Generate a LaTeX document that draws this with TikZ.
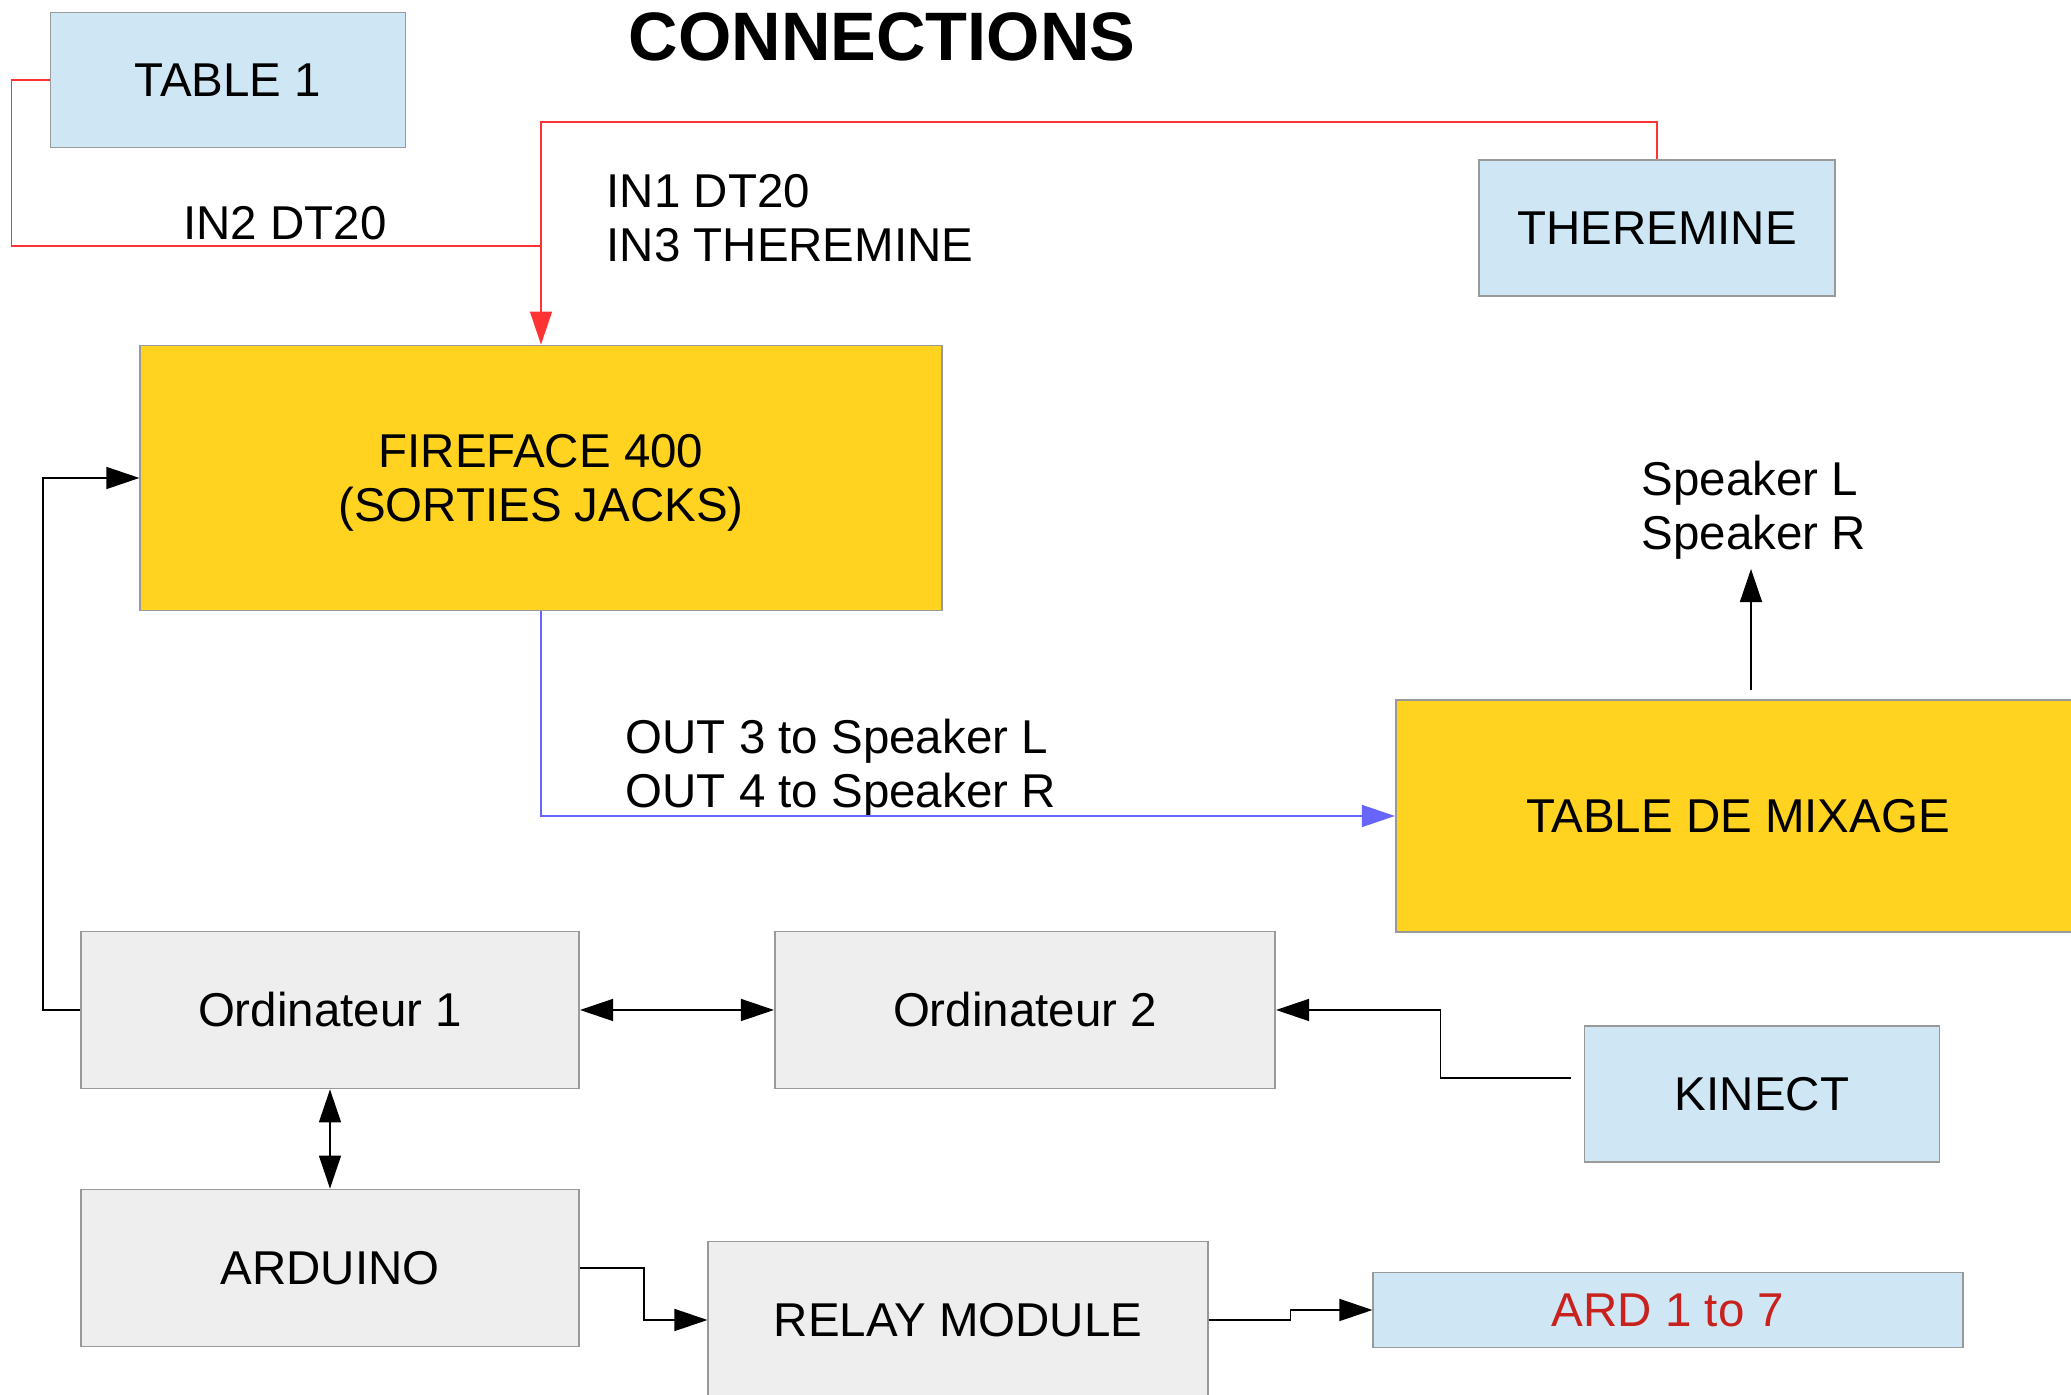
\documentclass[tikz,border=0pt]{standalone}
\usepackage{fontspec}
\setmainfont{Liberation Sans}
\usetikzlibrary{arrows.meta}

\definecolor{boxblue}{HTML}{CFE7F5}
\definecolor{boxyellow}{HTML}{FFD320}
\definecolor{boxgray}{HTML}{EEEEEE}
\definecolor{boxline}{HTML}{999999}
\definecolor{wirered}{HTML}{FF3333}
\definecolor{wireblue}{HTML}{6666FF}
\definecolor{ardred}{HTML}{C9211E}

\newcommand{\linestrut}{\rule[-2.86pt]{0pt}{15.08pt}}

\tikzset{
	box/.style={draw=boxline, line width=0.5pt, inner sep=0pt, align=center,
		font=\fontsize{13.5}{15.5}\selectfont},
	bluebox/.style={box, fill=boxblue},
	yellowbox/.style={box, fill=boxyellow},
	graybox/.style={box, fill=boxgray},
	lbl/.style={align=left, inner sep=0pt, font=\fontsize{13.5}{15.5}\selectfont},
	wire/.style={line width=0.4pt},
	redwire/.style={wire, draw=wirered, >={Triangle[length=3.3mm,width=2.2mm]}},
	bluewire/.style={wire, draw=wireblue, >={Triangle[length=3.3mm,width=2.2mm]}}
}

\begin{document}
\begin{tikzpicture}[x=0.01cm, y=-0.01cm, >={Triangle[length=3.3mm,width=2.2mm]}]
		\path[use as bounding box] (0,0) rectangle (2071,1395);
		\clip (0,0) rectangle (2071,1395);

		\node[font=\fontsize{19.5}{22}\selectfont\bfseries] (title) at (882,37) {CONNECTIONS};

		\node[bluebox, minimum width=3.55cm, minimum height=1.35cm] (table1) at (228,80) {TABLE 1};
		\node[bluebox, minimum width=3.56cm, minimum height=1.36cm] (theremine) at (1657,228) {THEREMINE};
		\node[yellowbox, minimum width=8.01cm, minimum height=2.65cm] (fireface) at (541,478) {\linestrut FIREFACE 400\\(SORTIES JACKS)\linestrut};
		\node[yellowbox, minimum width=6.84cm, minimum height=2.32cm] (mixage) at (1738,816) {TABLE DE MIXAGE};
		\node[graybox, minimum width=4.98cm, minimum height=1.57cm] (ord1) at (330,1010) {Ordinateur 1};
		\node[graybox, minimum width=5.00cm, minimum height=1.57cm] (ord2) at (1025,1010) {Ordinateur 2};
		\node[bluebox, minimum width=3.55cm, minimum height=1.36cm] (kinect) at (1762,1094) {KINECT};
		\node[graybox, minimum width=4.98cm, minimum height=1.57cm] (arduino) at (330,1268) {ARDUINO};
		\node[graybox, minimum width=4.99cm, minimum height=1.57cm] (relay) at (958,1320) {RELAY MODULE};
		\node[bluebox, minimum width=5.89cm, minimum height=0.75cm, text=ardred] (ard) at (1668,1310) {ARD 1 to 7};

		\node[lbl] (in2) at (285,223) {IN2 DT20};
		\node[lbl, anchor=west] (in13) at (606,218) {\linestrut IN1 DT20\\IN3 THEREMINE\linestrut};
		\node[lbl, anchor=west] (outs) at (625,764) {\linestrut OUT 3 to Speaker L\\OUT 4 to Speaker R\linestrut};
		\node[lbl] (speakers) at (1754,506) {\linestrut Speaker L\\Speaker R\linestrut};

		\coordinate (redtop) at (541,122);
		\coordinate (redjoin) at (541,246);
		\coordinate (spkarrow) at (1751,569);

		\draw[redwire, ->] (theremine.north) |- (redtop) -- (fireface.north);
		\draw[redwire] (table1.west) -- ++(-38,0) |- (redjoin);
		\draw[bluewire, ->] (fireface.south) |- (mixage.west);
		\draw[wire, ->] ([yshift=0.09cm]mixage.north -| spkarrow) -- (spkarrow);
		\draw[wire, ->] (ord1.west) -- ++(-37,0) |- (fireface.west);
		\draw[wire, <->] (ord1.east) -- (ord2.west);
		\draw[wire, <->] (ord1.south) -- (arduino.north);
		\draw[wire, ->] ([shift={(-0.13cm,0.16cm)}]kinect.west) -- ++(-130,0) |- (ord2.east);
		\draw[wire, ->] (arduino.east) -- ++(64,0) |- (relay.west);
		\draw[wire, ->] (relay.east) -- ++(82,0) |- (ard.west);
	\end{tikzpicture}
\end{document}
